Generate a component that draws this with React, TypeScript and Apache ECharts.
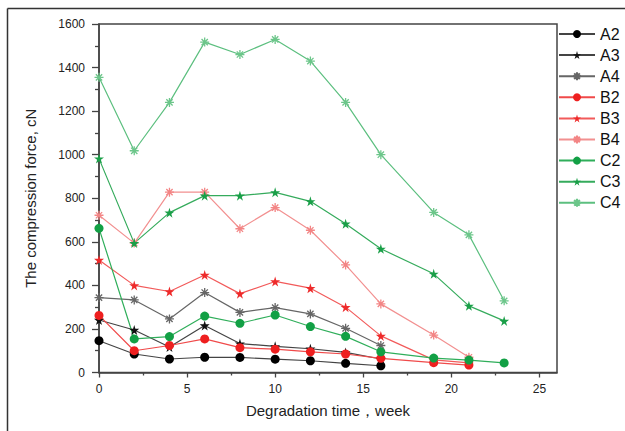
import React, { useEffect, useRef } from "react";
import * as echarts from "echarts";

const weeksA = [0, 2, 4, 6, 8, 10, 12, 14, 16];
const weeksB = [0, 2, 4, 6, 8, 10, 12, 14, 16, 19, 21];
const weeksC = [0, 2, 4, 6, 8, 10, 12, 14, 16, 19, 21, 23];

const A2 = [146, 85, 62, 70, 69, 61, 54, 42, 31];
const A3 = [241, 195, 117, 216, 133, 120, 109, 92, 62];
const A4 = [344, 333, 246, 367, 276, 298, 269, 203, 124];
const B2 = [262, 100, 124, 154, 114, 107, 95, 85, 65, 45, 34];
const B3 = [517, 400, 372, 448, 362, 418, 387, 300, 168, 58, 44];
const B4 = [722, 594, 828, 828, 660, 757, 653, 494, 315, 172, 70];
const C2 = [662, 154, 165, 259, 226, 264, 211, 166, 95, 66, 57, 44];
const C3 = [982, 594, 734, 812, 812, 827, 786, 683, 568, 453, 306, 237];
const C4 = [1355, 1018, 1240, 1517, 1460, 1529, 1430, 1240, 1000, 735, 632, 329];

const xMajorTicks = [0, 5, 10, 15, 20, 25];
const xMinorTicks = [2.5, 7.5, 12.5, 17.5, 22.5];

const STAR = "path://M50,0 L61,35 L98,35 L68,57 L79,91 L50,70 L21,91 L32,57 L2,35 L39,35 Z";
const ASTER = "path://M0,50 L100,50 M50,0 L50,100 M15,15 L85,85 M85,15 L15,85";

const FONT = "'Liberation Sans', Arial, sans-serif";

type Def = { name: string; x: number[]; y: number[]; kind: "dot" | "star" | "aster"; mark: string; line: string };

const defs: Def[] = [
  { name: "A2", x: weeksA, y: A2, kind: "dot", mark: "#000000", line: "#444444" },
  { name: "A3", x: weeksA, y: A3, kind: "star", mark: "#111111", line: "#444444" },
  { name: "A4", x: weeksA, y: A4, kind: "aster", mark: "#666666", line: "#666666" },
  { name: "B2", x: weeksB, y: B2, kind: "dot", mark: "#ee1f1f", line: "#f04a4a" },
  { name: "B3", x: weeksB, y: B3, kind: "star", mark: "#ee2a2a", line: "#f25a5a" },
  { name: "B4", x: weeksB, y: B4, kind: "aster", mark: "#f38585", line: "#f29090" },
  { name: "C2", x: weeksC, y: C2, kind: "dot", mark: "#12a045", line: "#2fae5a" },
  { name: "C3", x: weeksC, y: C3, kind: "star", mark: "#1a9f48", line: "#35ab5c" },
  { name: "C4", x: weeksC, y: C4, kind: "aster", mark: "#6cc68a", line: "#5cbf7f" },
];

export default function App() {
  const ref = useRef<HTMLDivElement>(null);
  useEffect(() => {
    if (!ref.current) return;
    const chart = echarts.init(ref.current, null, { renderer: "svg" });
    const series = defs.map((d) => ({
      name: d.name,
      type: "line",
      xAxisIndex: 0,
      yAxisIndex: 0,
      data: d.x.map((w, i) => [w, d.y[i]]),
      symbol: d.kind === "dot" ? "circle" : d.kind === "star" ? STAR : ASTER,
      symbolSize: d.kind === "dot" ? 9 : d.kind === "star" ? 10 : 9,
      showSymbol: true,
      lineStyle: { color: d.line, width: 1.2 },
      itemStyle:
        d.kind === "aster"
          ? { color: d.mark, borderColor: d.mark, borderWidth: 1.3 }
          : { color: d.mark, borderColor: d.mark, borderWidth: 0 },
      emphasis: { disabled: true },
    }));
    chart.setOption({
      animation: false,
      backgroundColor: "#ffffff",
      textStyle: { fontFamily: FONT },
      grid: {
        left: 99,
        right: 68,
        top: 24,
        bottom: 58.5,
        show: true,
        borderColor: "#444444",
        borderWidth: 1.5,
        backgroundColor: "#ffffff",
        outerBoundsMode: "none",
      },
      legend: {
        orient: "vertical",
        left: 558,
        top: 26,
        padding: 0,
        itemWidth: 36,
        itemHeight: 10,
        itemGap: 5.1,
        selectedMode: false,
        textStyle: { fontSize: 16, lineHeight: 14.1, color: "#111111", fontFamily: FONT },
        data: defs.map((d) => d.name),
      },
      xAxis: [
        {
          type: "value",
          min: 0,
          max: 26,
          interval: 5,
          name: "Degradation time，week",
          nameLocation: "middle",
          nameGap: 30,
          nameTextStyle: { fontSize: 15, color: "#222222", fontFamily: FONT },
          axisLine: { show: true, lineStyle: { color: "#444444", width: 1.5 } },
          axisTick: { show: true, inside: false, length: 5, customValues: xMajorTicks, lineStyle: { color: "#444444", width: 1.3 } },
          axisLabel: { customValues: xMajorTicks, fontSize: 12, color: "#222222", margin: 10, fontFamily: FONT },
          splitLine: { show: false },
        },
        {
          type: "value",
          min: 0,
          max: 26,
          position: "bottom",
          offset: 0,
          axisLine: { show: false },
          axisTick: { show: true, inside: false, length: 3, customValues: xMinorTicks, lineStyle: { color: "#444444", width: 1.3 } },
          axisLabel: { show: false },
          splitLine: { show: false },
        },
      ],
      yAxis: {
        type: "value",
        min: 0,
        max: 1600,
        interval: 200,
        name: "The compression force, cN",
        nameLocation: "middle",
        nameGap: 61,
        nameTextStyle: { fontSize: 15, color: "#222222", fontFamily: FONT },
        axisLine: { show: true, lineStyle: { color: "#444444", width: 1.5 } },
        axisTick: { show: true, inside: false, length: 7, lineStyle: { color: "#444444", width: 1.3 } },
        minorTick: { show: true, splitNumber: 2, length: 4, lineStyle: { color: "#444444", width: 1.3 } },
        axisLabel: { fontSize: 12, color: "#222222", margin: 14, fontFamily: FONT, formatter: (v: number) => String(v) },
        splitLine: { show: false },
        minorSplitLine: { show: false },
      },
      graphic: [
        { type: "line", shape: { x1: 7.5, y1: 8.5, x2: 625, y2: 8.5 }, style: { stroke: "#333333", lineWidth: 1.5 }, silent: true },
        { type: "line", shape: { x1: 7.5, y1: 8.5, x2: 7.5, y2: 431 }, style: { stroke: "#333333", lineWidth: 1.5 }, silent: true },
      ],
      series,
    });
    return () => chart.dispose();
  }, []);
  return (
    <div
      ref={ref}
      style={{ position: "absolute", left: 0, top: 0, width: 625, height: 431 }}
    />
  );
}
